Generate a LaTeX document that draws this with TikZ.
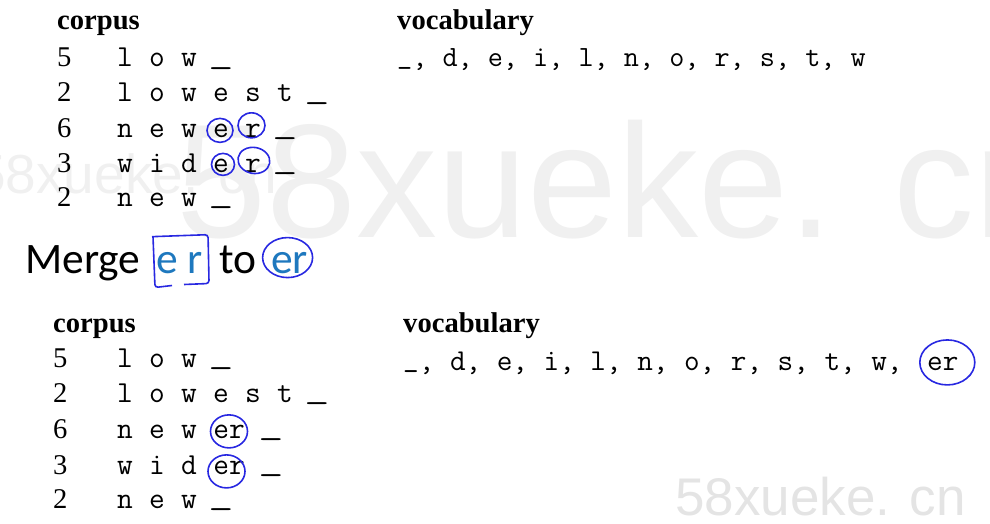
\documentclass[tikz,border=0pt]{standalone}
\usepackage{fontspec}
\usepackage{graphicx}
\setmainfont{Liberation Serif}
\newfontfamily\mergefont{Carlito}
\newfontfamily\wmfont{Liberation Sans}
\usetikzlibrary{positioning}

\definecolor{penblue}{RGB}{40,40,225}
\definecolor{textblue}{RGB}{30,120,190}
\definecolor{wmgray}{RGB}{240,240,240}
\definecolor{wmgrayB}{RGB}{228,228,228}

% end-of-word mark
\newcommand{\eow}[1][1.6]{\raisebox{3.5pt}{\scalebox{#1}[1]{\textunderscore}}}

\tikzset{
  head/.style={font=\bfseries\fontsize{28.6}{30}\selectfont, inner sep=0, anchor=base west},
  num/.style={font=\fontsize{28.6}{30}\selectfont, inner sep=0, anchor=base west},
  tok/.style={font=\ttfamily\fontsize{30.5}{32}\selectfont, inner sep=0, anchor=base},
  voc/.style={font=\ttfamily\fontsize{#1}{32}\selectfont, inner sep=0, anchor=base west},
  mrg/.style={font=\mergefont\fontsize{43.5}{45}\selectfont, inner sep=0, anchor=base west},
  pen/.style={draw=penblue, line width=1.6pt},
  wm/.style={font=\wmfont\fontsize{#1}{#1}\selectfont, inner sep=0, anchor=base west}
}

\begin{document}
\begin{tikzpicture}[x=1pt,y=-1pt]
 \useasboundingbox (0,0) rectangle (990,524);

 % watermarks
 \node[wm=162, text=wmgray] (wmA) at (176,237) {58xueke. cn};
 \node[wm=55, text=wmgray] (wmB) at (-25,193) {58xueke. cn};
 \node[wm=53, text=wmgrayB] (wmC) at (675,515) {58xueke. cn};

 % before the merge
 \node[head] (corpA) at (57,30) {corpus};
 \node[head] (vocA) at (397,30) {vocabulary};
 \foreach \y/\n [count=\r] in {67/5,102/2,137/6,172/3,206/2}
   \node[num] (nA\r) at (57,\y) {\n};
 \foreach \c [count=\k] in {l,o,w,\eow}
   \node[tok] (a1-\k) at ({93+32*\k},67) {\c};
 \foreach \c [count=\k] in {l,o,w,e,s,t,\eow}
   \node[tok] (a2-\k) at ({93+32*\k},102) {\c};
 \foreach \c [count=\k] in {n,e,w,e,r,\eow}
   \node[tok] (a3-\k) at ({93+32*\k},137) {\c};
 \foreach \c [count=\k] in {w,i,d,e,r,\eow}
   \node[tok] (a4-\k) at ({93+32*\k},172) {\c};
 \foreach \c [count=\k] in {n,e,w,\eow}
   \node[tok] (a5-\k) at ({93+32*\k},206) {\c};
 \node[voc=29.35] (vlistA) at (397,67) {\eow[1], d, e, i, l, n, o, r, s, t, w};

 \draw[pen] ([shift={(-1,0)}]a3-4.center) ellipse [x radius=13pt, y radius=12pt];
 \draw[pen] ([shift={(-1.5,-5)}]a3-5.center) ellipse [x radius=13.5pt, y radius=12.5pt];
 \draw[pen] ([shift={(2,-1)}]a4-4.center) ellipse [x radius=11.5pt, y radius=11pt];
 \draw[pen, rotate=-10] ([shift={(0,-5)}]a4-5.center) ellipse [x radius=16pt, y radius=13pt];

 % merge line
 \node[mrg] (mw) at (25,273) {Merge};
 \node[mrg, text=textblue] (mer) at (156,273) {e r};
 \node[mrg] (mto) at (219,273) {to};
 \node[mrg, text=textblue] (erm) at (271,273) {er};
 \draw[pen, rounded corners=3pt] ([shift={(-3,-15)}]mer.north west) -- ([shift={(-1,14)}]mer.south west)
   -- ([shift={(16,12)}]mer.south west);
 \draw[pen, rounded corners=3pt] ([shift={(28,11)}]mer.south west) -- ([shift={(6,10)}]mer.south east)
   -- ([shift={(5,-17)}]mer.north east) -- ([shift={(-4,-15)}]mer.north west);
 \draw[pen] ([shift={(-2,-5)}]erm.center) ellipse [x radius=25pt, y radius=20pt];

 % after the merge
 \node[head] (corpB) at (53,332) {corpus};
 \node[head] (vocB) at (403,332) {vocabulary};
 \foreach \y/\n [count=\r] in {367/5,402/2,438/6,474/3,508/2}
   \node[num] (nB\r) at (53,\y) {\n};
 \foreach \c [count=\k] in {l,o,w,\eow}
   \node[tok] (b1-\k) at ({93+32*\k},367) {\c};
 \foreach \c [count=\k] in {l,o,w,e,s,t,\eow}
   \node[tok] (b2-\k) at ({93+32*\k},402) {\c};
 \foreach \c [count=\k] in {n,e,w}
   \node[tok] (b3-\k) at ({93+32*\k},438) {\c};
 \node[tok] (b3-4) at (229,438) {er};
 \node[tok] (b3-5) at (271,438) {\eow};
 \foreach \c [count=\k] in {w,i,d}
   \node[tok] (b4-\k) at ({93+32*\k},474) {\c};
 \node[tok] (b4-4) at (229,474) {er};
 \node[tok] (b4-5) at (271,474) {\eow};
 \foreach \c [count=\k] in {n,e,w,\eow}
   \node[tok] (b5-\k) at ({93+32*\k},508) {\c};
 \node[voc=30.3] (vlistB) at (403,370) {\eow[1], d, e, i, l, n, o, r, s, t, w,};
 \node[voc=30.3] (erv) at (927,370) {er};

 \draw[pen] (b3-4.center) ellipse [x radius=18.5pt, y radius=16.5pt];
 \draw[pen] ([shift={(-2.5,4)}]b4-4.center) ellipse [x radius=18.5pt, y radius=16.5pt];
 \draw[pen] ([shift={(4.5,-1)}]erv.center) ellipse [x radius=27.5pt, y radius=22.5pt];
\end{tikzpicture}
\end{document}
